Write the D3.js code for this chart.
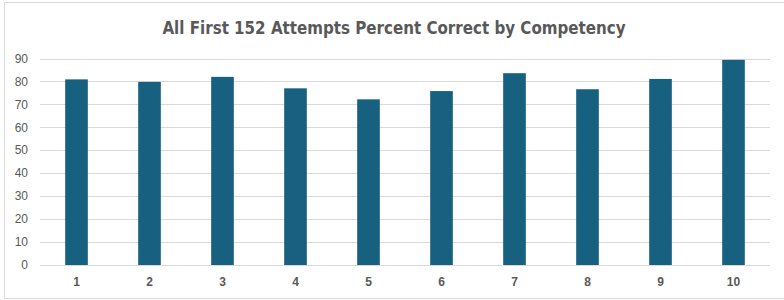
<!DOCTYPE html>
<html>
<head>
<meta charset="utf-8">
<script src="https://cdn.jsdelivr.net/npm/d3@7"></script>
<style>
  body { margin: 0; background: #fff; }
  text { font-family: "Liberation Sans", Arial, sans-serif; fill: #595959; }
</style>
</head>
<body>
<svg id="chart"></svg>
<script>
// data
var competencies = ["1", "2", "3", "4", "5", "6", "7", "8", "9", "10"];
var percentCorrect = [80.9, 79.8, 82.0, 77.0, 72.2, 75.8, 83.6, 76.6, 81.1, 89.4];
var yTicks = [0, 10, 20, 30, 40, 50, 60, 70, 80, 90];
var chartTitle = "All First 152 Attempts Percent Correct by Competency";

var width = 784, height = 300;

var svg = d3.select("#chart")
    .attr("width", width)
    .attr("height", height);

// outer border
svg.append("rect")
    .attr("x", 4.5).attr("y", 2.5)
    .attr("width", 790).attr("height", 296)
    .attr("fill", "none")
    .attr("stroke", "#d9d9d9");

const x = d3.scaleBand()
    .domain(competencies)
    .range([40, 770])
    .paddingInner(0.69)
    .paddingOuter(0.345);

const y = d3.scaleLinear()
    .domain([0, 90])
    .range([265, 58.5]);

// gridlines
svg.append("g")
    .attr("class", "grid")
    .selectAll("line")
    .data(yTicks)
    .join("line")
    .attr("x1", 40).attr("x2", 770)
    .attr("y1", d => Math.round(y(d)) + 0.5)
    .attr("y2", d => Math.round(y(d)) + 0.5)
    .attr("stroke", "#d9d9d9")
    .attr("stroke-width", 1);

// y labels
svg.append("g")
    .selectAll("text")
    .data(yTicks)
    .join("text")
    .attr("x", 28)
    .attr("y", d => y(d))
    .attr("dy", "0.35em")
    .attr("text-anchor", "end")
    .style("font-size", "12px")
    .text(d => d);

// bars
svg.append("g")
    .selectAll("rect")
    .data(percentCorrect)
    .join("rect")
    .attr("x", (d, i) => x(competencies[i]))
    .attr("width", x.bandwidth())
    .attr("y", d => y(d))
    .attr("height", d => y(0) - y(d))
    .attr("fill", "#17607f");

// x labels
svg.append("g")
    .selectAll("text")
    .data(competencies)
    .join("text")
    .attr("x", d => x(d) + x.bandwidth() / 2)
    .attr("y", 286)
    .attr("text-anchor", "middle")
    .style("font-size", "12px")
    .style("font-weight", "bold")
    .text(d => d);

// title
svg.append("text")
    .attr("x", 394)
    .attr("y", 34)
    .attr("text-anchor", "middle")
    .style("font-family", "'DejaVu Sans Condensed', 'Liberation Sans Narrow', sans-serif")
    .style("font-size", "16.8px")
    .style("font-weight", "bold")
    .text(chartTitle);
</script>
</body>
</html>
